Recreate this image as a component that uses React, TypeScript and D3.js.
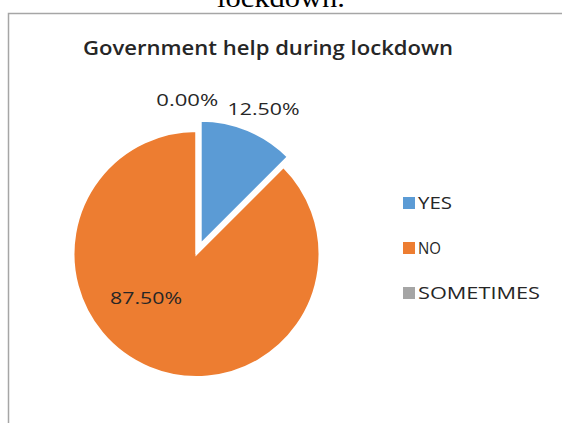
import React from "react";
import * as d3 from "d3";

const categories = ["YES", "NO", "SOMETIMES"];
const values = [12.5, 87.5, 0];
const labels = ["12.50%", "87.50%", "0.00%"];
const colors = ["#5B9BD5", "#ED7D31", "#A5A5A5"];
const title = "Government help during lockdown";
const caption = "lockdown.";

// styling: label radius and angular shift (radians) per slice, text widths
const labelPlace = [
  { r: 160, dA: 0.04 },
  { r: 67, dA: 0.46 },
  { r: 154, dA: -0.06 },
];
const legendWidths = [34, 23, 122];

export default function App() {
  const W = 562, H = 423;
  const cx = 196.5, cy = 254, R = 123;
  const explode = 11;
  const pie = d3.pie<number>().sort(null).value((d) => d)(values);
  const arc = d3.arc<d3.PieArcDatum<number>>().innerRadius(0).outerRadius(R);

  return (
    <svg width={W} height={H} style={{ position: "absolute", left: 0, top: 0, background: "#fff" }}>
      <text x={281} y={7} textAnchor="middle" fontFamily="Liberation Serif" fontSize={28} textLength={128} lengthAdjust="spacingAndGlyphs" fill="#000">{caption}</text>
      <path d={`M8.5,${H} V13.5 H${W}`} fill="none" stroke="#a6a6a6" strokeWidth={1.5} />
      <text x={268} y={55} textAnchor="middle" fontFamily="Open Sans" fontWeight={600} fontSize={19} textLength={370} lengthAdjust="spacingAndGlyphs" fill="#262626">{title}</text>
      {pie.map((p, i) => {
        const mid = (p.startAngle + p.endAngle) / 2;
        const off = i === 0 ? explode : 0;
        const tx = off * Math.sin(mid), ty = -off * Math.cos(mid);
        return (
          <path key={i} d={arc(p) || ""} transform={`translate(${cx + tx},${cy + ty})`} fill={colors[i]} stroke="#fff" strokeWidth={2} />
        );
      })}
      {pie.map((p, i) => {
        const mid = (p.startAngle + p.endAngle) / 2 + labelPlace[i].dA;
        const x = cx + labelPlace[i].r * Math.sin(mid);
        const y = cy - labelPlace[i].r * Math.cos(mid);
        return (
          <text key={i} x={x} y={y} dy="0.36em" textAnchor="middle" fontFamily="Open Sans" fontSize={17} textLength={i === 2 ? 62 : 72} lengthAdjust="spacingAndGlyphs" fill="#262626">{labels[i]}</text>
        );
      })}
      {categories.map((c, i) => {
        const y = 203 + i * 45;
        return (
          <g key={c}>
            <rect x={403} y={y - 6} width={12} height={12} fill={colors[i]} />
            <text x={418} y={y} dy="0.36em" fontFamily="Open Sans" fontSize={16} textLength={legendWidths[i]} lengthAdjust="spacingAndGlyphs" fill="#262626">{c}</text>
          </g>
        );
      })}
    </svg>
  );
}
